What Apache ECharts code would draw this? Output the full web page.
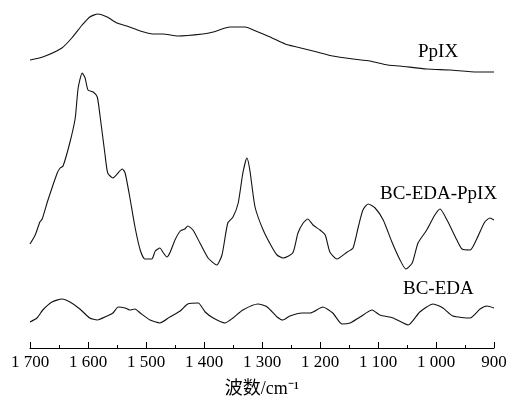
<!DOCTYPE html>
<html>
<head>
<meta charset="utf-8">
<script src="https://cdn.jsdelivr.net/npm/echarts@6/dist/echarts.min.js"></script>
<style>
  html, body { margin: 0; padding: 0; background: #fff; }
  #chart { width: 507px; height: 397px; }
</style>
</head>
<body>
<div id="chart"></div>
<script>
// wavenumbers (cm-1) and offset intensities (arbitrary units)
const ppixWn = [1700, 1678, 1645, 1628, 1610, 1597, 1583, 1567, 1550, 1533, 1510, 1488, 1471, 1445, 1402, 1384,
  1355, 1329, 1315, 1286, 1260, 1240, 1205, 1178, 1143, 1114, 1083, 1062, 1016, 976, 929, 900];
const ppixVal = [288, 291, 300, 310, 323, 331, 334, 331, 325, 322, 317, 314, 314, 312, 314, 316,
  321, 321, 318, 311, 304, 301, 296, 292, 289, 287, 283, 282, 279, 278, 276, 276];

const bcEdaPpixWn = [1700, 1691, 1683, 1679, 1669, 1653, 1648, 1643, 1631, 1622, 1617, 1610, 1605, 1600, 1591, 1584,
  1579, 1571, 1566, 1557, 1541, 1536, 1528, 1519, 1510, 1502, 1490, 1484, 1476, 1471, 1464, 1459,
  1450, 1441, 1433, 1428, 1419, 1407, 1393, 1378, 1369, 1359, 1350, 1341, 1333, 1326, 1321, 1312,
  1298, 1283, 1274, 1264, 1247, 1238, 1229, 1221, 1212, 1200, 1191, 1183, 1171, 1153, 1143, 1134,
  1126, 1117, 1105, 1091, 1076, 1062, 1052, 1041, 1031, 1016, 1002, 993, 981, 964, 955, 941,
  929, 916, 907, 900];
const bcEdaPpixVal = [104, 113, 126, 129, 148, 175, 180, 182, 206, 230, 260, 275, 270, 258, 256, 251,
  231, 195, 175, 170, 179, 175, 151, 121, 98, 89, 89, 97, 100, 96, 91, 95,
  108, 117, 119, 122, 118, 105, 90, 83, 93, 125, 131, 145, 175, 190, 178, 141,
  118, 101, 93, 90, 95, 115, 125, 129, 123, 118, 113, 96, 89, 96, 100, 121,
  138, 144, 140, 128, 106, 88, 79, 85, 105, 118, 133, 139, 128, 108, 99, 98,
  110, 126, 130, 128];

const bcEdaWn = [1700, 1688, 1678, 1662, 1645, 1631, 1614, 1597, 1584, 1567, 1557, 1548, 1536, 1528, 1519, 1510,
  1493, 1476, 1459, 1441, 1428, 1410, 1398, 1384, 1364, 1350, 1333, 1307, 1291, 1274, 1264, 1252,
  1231, 1217, 1195, 1178, 1162, 1148, 1131, 1110, 1097, 1074, 1048, 1028, 1005, 988, 971, 941,
  924, 912, 900];
const bcEdaVal = [26, 30, 38, 46, 49, 46, 39, 30, 28, 32, 35, 41, 40, 38, 39, 35,
  28, 25, 31, 37, 44, 45, 36, 30, 25, 30, 38, 44, 41, 31, 28, 32,
  35, 35, 41, 35, 24, 25, 31, 38, 33, 30, 23, 36, 44, 40, 32, 30,
  39, 42, 40];

const labels = ['PpIX', 'BC-EDA-PpIX', 'BC-EDA'];

const zip = (xs, ys) => xs.map((x, i) => [x, ys[i]]);

const serif = "'Liberation Serif', 'Times New Roman', 'Noto Sans CJK SC', serif";

function fmtTick(v) {
  if (v >= 1000) {
    const rest = String(v % 1000).padStart(3, '0');
    return Math.floor(v / 1000) + ' ' + rest;
  }
  return String(v);
}

const lineSeries = (name, data) => ({
  name: name,
  type: 'line',
  data: data,
  smooth: 0.2,
  showSymbol: false,
  silent: true,
  lineStyle: { color: '#111', width: 1.1 }
});

const chart = echarts.init(document.getElementById('chart'), null, { renderer: 'canvas' });

const option = {
  animation: false,
  backgroundColor: '#fff',
  grid: { left: 30, right: 13, top: 0, bottom: 49, outerBoundsMode: 'none', containLabel: false },
  xAxis: {
    type: 'value',
    min: 900,
    max: 1700,
    interval: 100,
    inverse: true,
    name: '波数/cm⁻¹',
    nameLocation: 'middle',
    nameGap: 32,
    nameTextStyle: { fontFamily: serif, fontSize: 18, color: '#000' },
    axisLine: { onZero: false, lineStyle: { color: '#000', width: 1 } },
    axisTick: { inside: true, length: 6, lineStyle: { color: '#000' } },
    minorTick: { show: true, splitNumber: 2, length: 3, lineStyle: { color: '#000' } },
    splitLine: { show: false },
    axisLabel: {
      formatter: fmtTick,
      fontFamily: serif,
      fontSize: 17,
      color: '#000',
      margin: 6
    }
  },
  yAxis: {
    type: 'value',
    min: 0,
    max: 348,
    show: false
  },
  series: [
    lineSeries(labels[0], zip(ppixWn, ppixVal)),
    lineSeries(labels[1], zip(bcEdaPpixWn, bcEdaPpixVal)),
    lineSeries(labels[2], zip(bcEdaWn, bcEdaVal))
  ],
  graphic: [
    { type: 'text', left: 418, top: 43, style: { text: labels[0], font: '19px ' + serif, fill: '#000' } },
    { type: 'text', left: 380, top: 185, style: { text: labels[1], font: '19px ' + serif, fill: '#000' } },
    { type: 'text', left: 403, top: 280, style: { text: labels[2], font: '19px ' + serif, fill: '#000' } }
  ]
};

chart.setOption(option);
</script>
</body>
</html>
